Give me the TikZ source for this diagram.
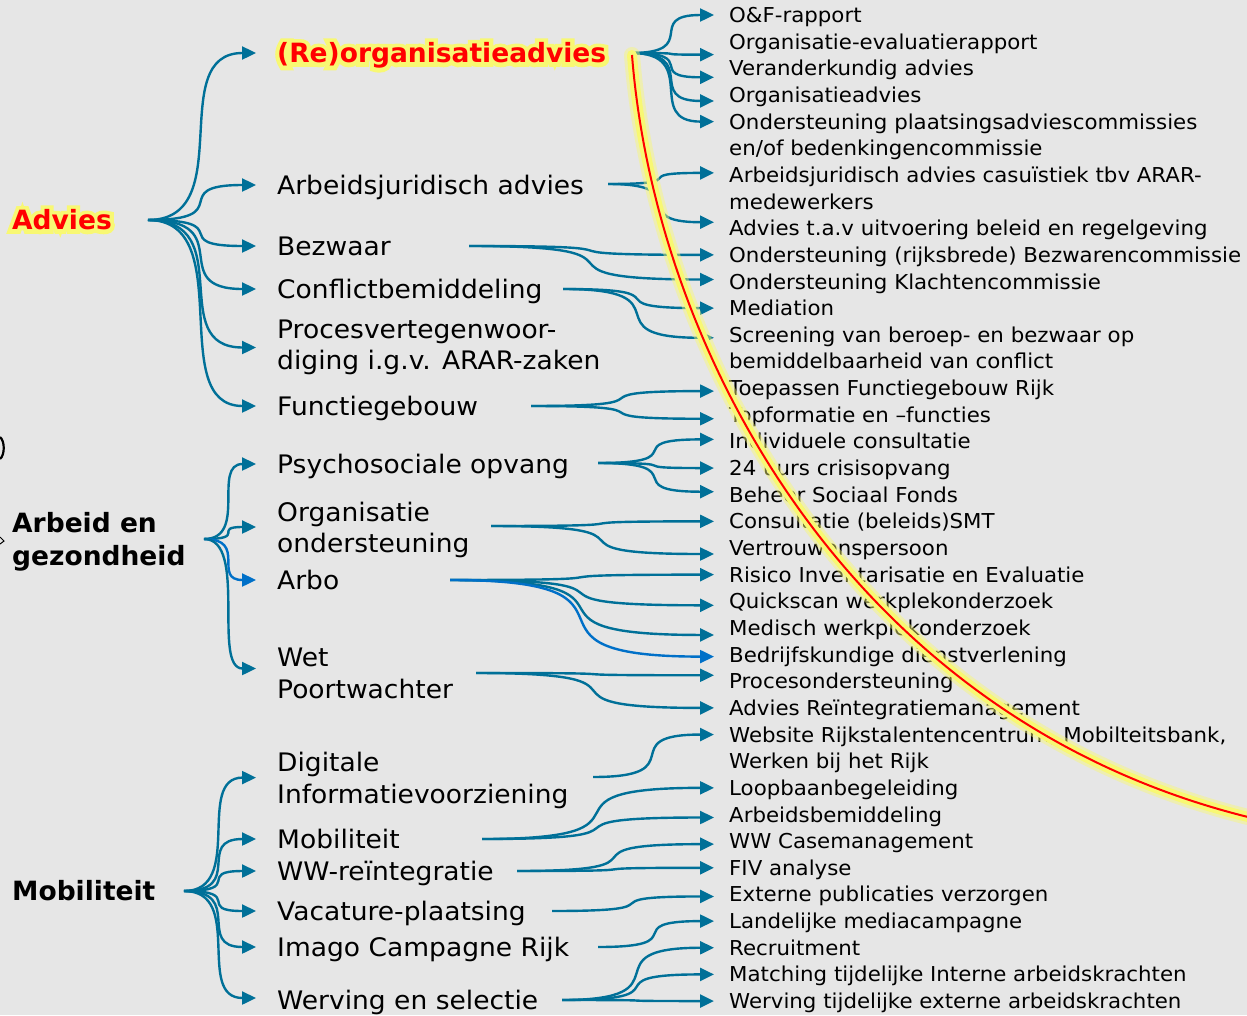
\documentclass[tikz,border=0pt]{standalone}
\usepackage{fontspec}
\setmainfont{DejaVu Sans}[FakeStretch=1.04]
\newfontfamily\catfont{DejaVu Sans}
\newfontfamily\glowfont{DejaVu Sans}[FakeBold=32]
\usetikzlibrary{arrows.meta,calc}
\definecolor{pagegrey}{RGB}{230,230,230}
\definecolor{linkblue}{RGB}{0,112,152}
\definecolor{arboblue}{RGB}{0,112,200}
\definecolor{glowyellow}{RGB}{248,248,115}
\definecolor{markred}{RGB}{255,0,0}

% brace-like connector from #2 to #3
\newcommand{\linkto}[3][flow]{%
  \draw[#1] (#2) let \p1=(#2), \p2=(#3), \n1={0.85*(\x2-\x1)} in
    .. controls +(\n1,0) and +(-\n1,0) .. (#3);}

\tikzset{
  flow/.style={draw=linkblue, line width=2.4pt, -{Triangle[length=14pt,width=13pt]}},
  flowarbo/.style={flow, draw=arboblue},
  cat/.style={anchor=west, inner sep=0pt, font=\fontsize{26.5}{33}\selectfont\catfont\bfseries,
    text height=19.3pt, text depth=0pt},
  cattwo/.style={anchor=west, inner sep=0pt, font=\fontsize{26.5}{33}\selectfont\catfont\bfseries, align=left},
  hot/.style={cat, text=markred},
  glow/.style={cat, font=\fontsize{26.5}{33}\selectfont\glowfont\bfseries, text=glowyellow},
  mid/.style={anchor=west, inner sep=0pt, font=\fontsize{25.5}{31.5}\selectfont,
    text height=18.6pt, text depth=0pt},
  midtwo/.style={anchor=west, inner sep=0pt, font=\fontsize{25.5}{31.5}\selectfont, align=left},
  item/.style={anchor=west, inner sep=0pt, font=\fontsize{20.5}{26.65}\selectfont,
    text height=15pt, text depth=0pt},
}

\begin{document}
\begin{tikzpicture}[x=1pt,y=-1pt]
\fill[pagegrey] (0,0) rectangle (1247,1015);
\useasboundingbox (0,0) rectangle (1247,1015);

% cut-off marks at the left edge
\draw[line width=2.2pt] (0,437) .. controls (5,441) and (5,455) .. (0,459);
\draw[line width=1pt] (0,537) -- (4,541) -- (0,544);

% main groups
\node[glow] (advies-glow) at (12,220) {Advies};
\node[hot] (advies) at (12,220) {Advies};
\node[cattwo] (arbeid) at (12,542) {Arbeid en\\gezondheid};
\node[cat] (mobiliteit) at (12,891) {Mobiliteit};

% middle column
\node[glow] (reorg-glow) at (277,53) {(Re)organisatieadvies};
\node[hot] (reorg) at (277,53) {(Re)organisatieadvies};
\node[mid] (arbjur) at (277,185) {Arbeidsjuridisch advies};
\node[mid] (bezwaar) at (277,246) {Bezwaar};
\node[mid] (conflict) at (277,289) {Conflictbemiddeling};
\node[midtwo] (proces) at (277,347.5) {Procesvertegenwoor-\\diging i.g.v. ARAR-zaken};
\node[mid] (functie) at (277,406) {Functiegebouw};
\node[mid] (psycho) at (277,464) {Psychosociale opvang};
\node[midtwo] (orgond) at (277,530) {Organisatie\\ondersteuning};
\node[mid] (arbo) at (277,580) {Arbo};
\node[midtwo] (wetpoort) at (277,673.5) {Wet\\Poortwachter};
\node[midtwo] (digitaal) at (277,780.6) {Digitale\\Informatievoorziening};
\node[mid] (mobi) at (277,839) {Mobiliteit};
\node[mid] (wwre) at (277,871) {WW-reïntegratie};
\node[mid] (vacature) at (277,911) {Vacature-plaatsing};
\node[mid] (imago) at (277,947) {Imago Campagne Rijk};
\node[mid] (werving) at (277,1000) {Werving en selectie};

% right column, one line each
\foreach \t [count=\i from 0] in {O\&F-rapport, Organisatie-evaluatierapport,
  Veranderkundig advies, Organisatieadvies, Ondersteuning plaatsingsadviescommissies,
  en/of bedenkingencommissie, Arbeidsjuridisch advies casuïstiek tbv ARAR-,
  medewerkers, Advies t.a.v uitvoering beleid en regelgeving,
  Ondersteuning (rijksbrede) Bezwarencommissie, Ondersteuning Klachtencommissie,
  Mediation, Screening van beroep- en bezwaar op, bemiddelbaarheid van conflict,
  Toepassen Functiegebouw Rijk, Topformatie en –functies, Individuele consultatie,
  24 uurs crisisopvang, Beheer Sociaal Fonds, Consultatie (beleids)SMT,
  Vertrouwenspersoon, Risico Inventarisatie en Evaluatie, Quickscan werkplekonderzoek,
  Medisch werkplekonderzoek, Bedrijfskundige dienstverlening, Procesondersteuning,
  Advies Reïntegratiemanagement, {Website Rijkstalentencentrum, Mobilteitsbank,},
  Werken bij het Rijk, Loopbaanbegeleiding, Arbeidsbemiddeling, WW Casemanagement,
  FIV analyse, Externe publicaties verzorgen, Landelijke mediacampagne, Recruitment,
  Matching tijdelijke Interne arbeidskrachten, Werving tijdelijke externe arbeidskrachten}
  \node[item] (r\i) at (729,15+26.65*\i) {\t};

% left fans
\coordinate (advies-root) at (148,220);
\coordinate (arbeid-root) at (204,539);
\coordinate (mobiliteit-root) at (184,891);
\linkto{advies-root}{[xshift=-21pt]reorg.west}
\linkto{advies-root}{[xshift=-21pt]arbjur.west}
\linkto{advies-root}{[xshift=-21pt]bezwaar.west}
\linkto{advies-root}{[xshift=-21pt]conflict.west}
\linkto{advies-root}{[xshift=-21pt]proces.west}
\linkto{advies-root}{[xshift=-21pt]functie.west}
\linkto{arbeid-root}{[xshift=-21pt]psycho.west}
\linkto{arbeid-root}{[xshift=-21pt,yshift=3pt]orgond.west}
\linkto[flowarbo]{arbeid-root}{[xshift=-21pt]arbo.west}
\linkto{arbeid-root}{[xshift=-21pt,yshift=5pt]wetpoort.west}
\linkto{mobiliteit-root}{[xshift=-21pt,yshift=3pt]digitaal.west}
\linkto{mobiliteit-root}{[xshift=-21pt]mobi.west}
\linkto{mobiliteit-root}{[xshift=-21pt]wwre.west}
\linkto{mobiliteit-root}{[xshift=-21pt]vacature.west}
\linkto{mobiliteit-root}{[xshift=-21pt]imago.west}
\linkto{mobiliteit-root}{[xshift=-21pt,yshift=2pt]werving.west}

% right fans
\coordinate (reorg-out) at (631,53);
\coordinate (arbjur-out) at (608,184);
\coordinate (bezwaar-out) at (469,246);
\coordinate (conflict-out) at (563,289);
\coordinate (functie-out) at (531,406);
\coordinate (psycho-out) at (598,463);
\coordinate (orgond-out) at (491,526);
\coordinate (arbo-out) at (450,580);
\coordinate (wetpoort-out) at (476,673);
\coordinate (digitaal-out) at (593,777);
\coordinate (mobi-out) at (482,839);
\coordinate (wwre-out) at (517,871);
\coordinate (vacature-out) at (552,911);
\coordinate (imago-out) at (598,947);
\coordinate (werving-out) at (562,1000);
\linkto{reorg-out}{[xshift=-15pt]r0.west}
\linkto{reorg-out}{[xshift=-15pt,yshift=-13pt]r1.west}
\linkto{reorg-out}{[xshift=-15pt,yshift=-9pt]r2.west}
\linkto{reorg-out}{[xshift=-15pt,yshift=-6pt]r3.west}
\linkto{reorg-out}{[xshift=-15pt]r4.west}
\linkto{arbjur-out}{[xshift=-15pt,yshift=2pt]r6.west}
\linkto{arbjur-out}{[xshift=-15pt,yshift=6pt]r8.west}
\linkto{bezwaar-out}{[xshift=-15pt]r9.west}
\linkto{bezwaar-out}{[xshift=-15pt,yshift=2pt]r10.west}
\linkto{conflict-out}{[xshift=-15pt]r11.west}
\linkto{conflict-out}{[xshift=-15pt,yshift=-3pt]r12.west}
\linkto{functie-out}{[xshift=-15pt,yshift=-3pt]r14.west}
\linkto{functie-out}{[xshift=-15pt,yshift=-4pt]r15.west}
\linkto{psycho-out}{[xshift=-15pt,yshift=2pt]r16.west}
\linkto{psycho-out}{[xshift=-15pt]r17.west}
\linkto{psycho-out}{[xshift=-15pt,yshift=3pt]r18.west}
\linkto{orgond-out}{[xshift=-15pt]r19.west}
\linkto{orgond-out}{[xshift=-15pt,yshift=-6pt]r20.west}
\linkto{arbo-out}{[xshift=-15pt]r21.west}
\linkto{arbo-out}{[xshift=-15pt,yshift=-4pt]r22.west}
\linkto{arbo-out}{[xshift=-15pt,yshift=-7pt]r23.west}
\linkto[flowarbo]{arbo-out}{[xshift=-15pt,yshift=-2pt]r24.west}
\linkto{wetpoort-out}{[xshift=-15pt,yshift=6pt]r25.west}
\linkto{wetpoort-out}{[xshift=-15pt]r26.west}
\linkto{digitaal-out}{[xshift=-15pt]r27.west}
\linkto{mobi-out}{[xshift=-15pt]r29.west}
\linkto{mobi-out}{[xshift=-15pt,yshift=-3pt]r30.west}
\linkto{wwre-out}{[xshift=-15pt,yshift=-3pt]r31.west}
\linkto{wwre-out}{[xshift=-15pt]r32.west}
\linkto{vacature-out}{[xshift=-15pt,yshift=-2pt]r33.west}
\linkto{imago-out}{[xshift=-15pt]r34.west}
\linkto{werving-out}{[xshift=-15pt]r35.west}
\linkto{werving-out}{[xshift=-15pt]r36.west}
\linkto{werving-out}{[xshift=-15pt]r37.west}

% hand-drawn red mark over the chart
\coordinate (mark-start) at (632,55);
\coordinate (mark-end) at (1252,818);
\draw[glowyellow, line width=16pt, opacity=.45, line cap=round]
  (mark-start) .. controls (655,350) and (850,720) .. (mark-end);
\draw[glowyellow, line width=10pt, line cap=round]
  (mark-start) .. controls (655,350) and (850,720) .. (mark-end);
\draw[markred, line width=2pt]
  (mark-start) .. controls (655,350) and (850,720) .. (mark-end);
\end{tikzpicture}
\end{document}
